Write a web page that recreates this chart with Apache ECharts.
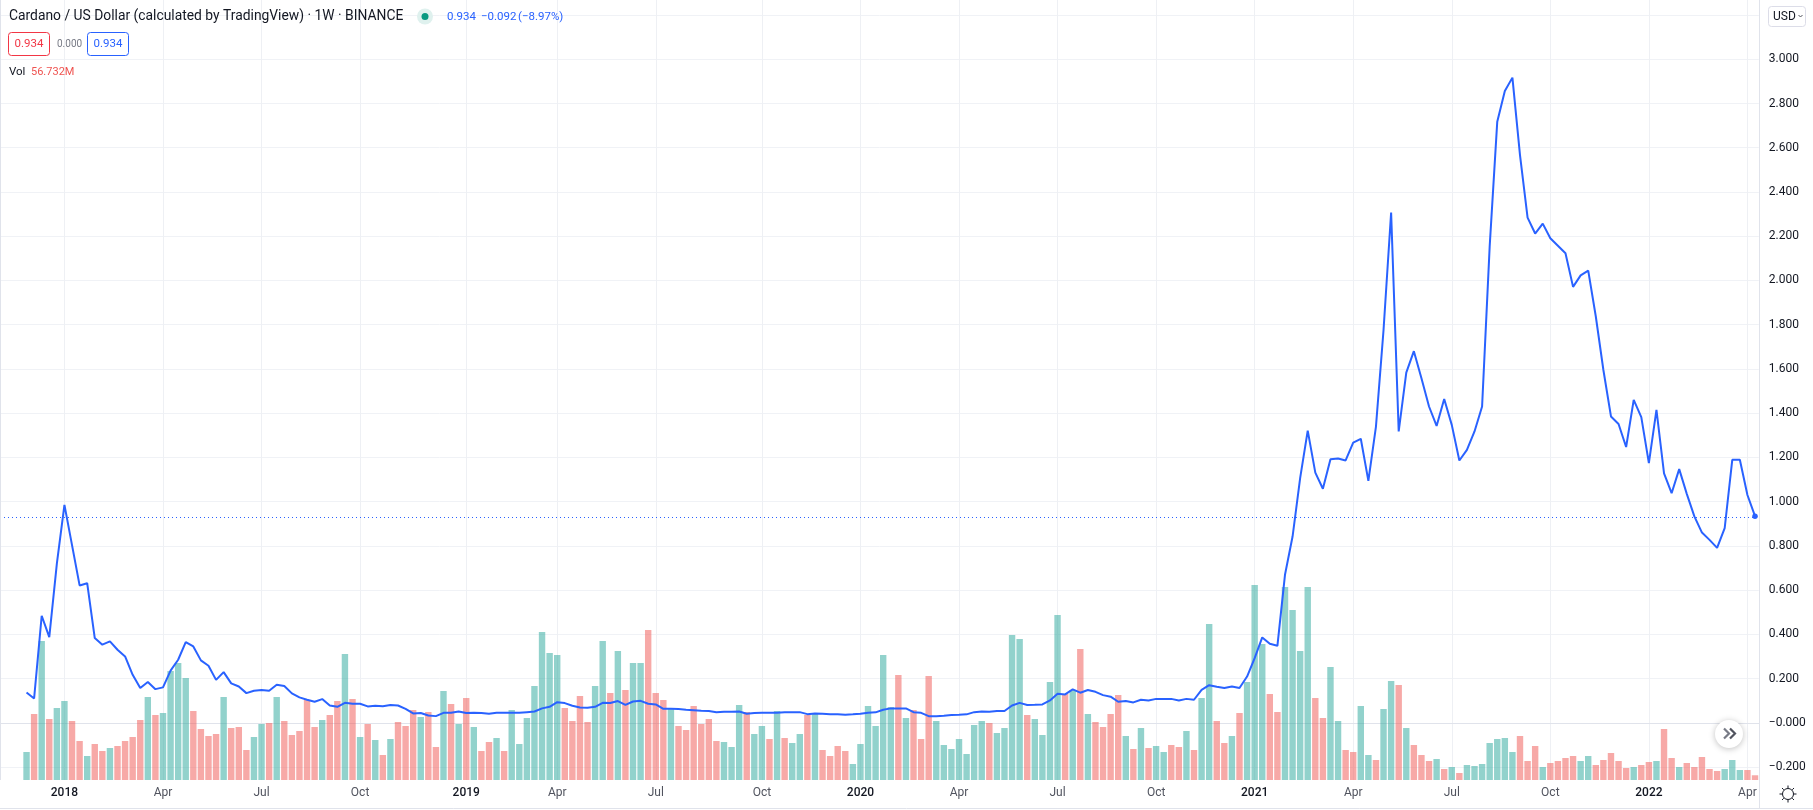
<!DOCTYPE html>
<html><head><meta charset="utf-8">
<style>html,body{margin:0;padding:0;background:#fff}#c{width:1813px;height:810px}</style>
<script src="https://cdn.jsdelivr.net/npm/echarts@6/dist/echarts.min.js"></script>
</head><body><div id="c"></div>
<script>
const closes=[
0.137,0.110,0.484,0.387,0.720,0.985,0.803,0.621,0.631,0.383,
0.353,0.368,0.330,0.300,0.217,0.157,0.184,0.152,0.160,0.236,
0.285,0.365,0.345,0.282,0.258,0.194,0.229,0.178,0.164,0.134,
0.145,0.148,0.145,0.172,0.166,0.133,0.115,0.104,0.095,0.107,
0.078,0.072,0.090,0.086,0.086,0.074,0.077,0.075,0.080,0.078,
0.063,0.042,0.044,0.033,0.030,0.045,0.045,0.051,0.044,0.045,
0.044,0.041,0.045,0.045,0.045,0.045,0.048,0.051,0.065,0.072,
0.093,0.089,0.077,0.069,0.068,0.072,0.090,0.089,0.098,0.081,
0.096,0.099,0.086,0.083,0.063,0.063,0.062,0.059,0.057,0.054,
0.053,0.048,0.050,0.050,0.051,0.041,0.044,0.045,0.045,0.045,
0.047,0.048,0.048,0.039,0.042,0.041,0.039,0.038,0.036,0.038,
0.041,0.045,0.047,0.059,0.065,0.065,0.065,0.048,0.045,0.030,
0.030,0.032,0.035,0.036,0.038,0.048,0.051,0.050,0.053,0.053,
0.078,0.090,0.080,0.081,0.083,0.101,0.131,0.128,0.151,0.136,
0.148,0.140,0.125,0.118,0.095,0.098,0.092,0.104,0.101,0.108,
0.108,0.108,0.101,0.108,0.104,0.149,0.170,0.163,0.157,0.164,
0.157,0.209,0.292,0.386,0.357,0.348,0.669,0.842,1.106,1.321,
1.131,1.058,1.192,1.195,1.186,1.267,1.284,1.094,1.339,1.776,
2.307,1.317,1.583,1.680,1.558,1.430,1.342,1.464,1.347,1.186,
1.234,1.317,1.430,2.153,2.718,2.857,2.917,2.567,2.284,2.212,
2.257,2.191,2.157,2.123,1.971,2.023,2.044,1.837,1.595,1.385,
1.351,1.247,1.460,1.382,1.174,1.415,1.128,1.038,1.147,1.035,
0.933,0.860,0.827,0.791,0.880,1.189,1.189,1.030,0.934];
const volumesM=[
336,792,1668,732,864,948,708,468,288,432,
348,384,408,468,516,720,996,780,804,1308,
1404,1224,828,612,528,552,996,624,636,360,
516,672,684,996,708,540,588,960,636,720,
780,948,1512,972,516,672,480,300,492,696,
648,840,756,816,396,1068,912,672,984,636,
348,456,504,348,840,432,744,1128,1776,1524,
1500,864,708,1008,696,1128,1668,1044,1548,1080,
1404,1404,1800,1044,960,852,648,600,888,672,
732,468,456,396,900,816,552,648,492,828,
504,444,552,780,804,360,288,408,348,192,
432,888,648,1500,876,1260,744,840,492,1248,
708,420,372,492,312,660,708,684,564,624,
1740,1692,780,732,540,1176,1980,1032,1080,1572,
792,696,636,792,1020,528,372,624,384,408,
336,420,396,588,360,984,1872,708,444,528,
804,1176,2340,1632,1032,816,2316,2040,1548,2316,
984,744,1356,708,360,336,888,300,240,852,
1188,1140,624,420,300,228,252,132,156,84,
180,168,192,444,492,504,336,528,228,408,
156,204,228,264,288,228,288,180,240,324,
228,144,156,180,216,228,612,264,156,204,
156,276,132,108,132,240,120,120,56.732];
const barDirections=[
'G','R','G','R','G','G','R','R','G','R',
'R','G','R','R','R','R','G','R','G','G',
'G','G','R','R','R','R','G','R','R','R',
'G','G','R','G','R','R','R','R','R','G',
'R','R','G','R','G','R','G','R','G','R',
'R','R','G','R','R','G','R','G','R','G',
'R','R','G','R','G','G','G','G','G','G',
'G','R','R','R','R','G','G','R','G','R',
'G','G','R','R','R','G','R','R','R','R',
'R','R','G','G','G','R','G','G','R','G',
'R','G','G','R','G','R','R','R','R','G',
'G','G','G','G','G','R','G','R','R','R',
'G','G','G','G','G','G','G','R','G','G',
'G','G','R','G','G','G','G','R','G','R',
'G','R','R','R','R','G','R','G','R','G',
'G','R','R','G','R','G','G','R','R','G',
'R','G','G','G','R','R','G','G','G','G',
'R','R','G','G','R','R','G','G','R','G',
'G','R','G','R','R','R','G','R','G','R',
'G','G','G','G','G','G','G','R','R','R',
'G','R','R','R','R','G','G','R','R','R',
'R','R','G','R','R','G','R','R','G','R',
'R','R','R','R','G','G','G','R','R'];
const priceTicks=[-0.2,0,0.2,0.4,0.6,0.8,1,1.2,1.4,1.6,1.8,2,2.2,2.4,2.6,2.8,3,3.2];
const monthNames=['2018','','','Apr','','','Jul','','','Oct'];
const firstWeek=Date.UTC(2017,10,27);
const lastClose=0.934;
const TITLE='Cardano / US Dollar (calculated by TradingView) · 1W · BINANCE';
const FONT='Roboto';

const PAD=3; // empty weeks left of the first bar
const weeks=closes.map((_,i)=>new Date(firstWeek+i*7*864e5));
const categories=[...Array(PAD).fill(''),...weeks.map(d=>d.toISOString().slice(0,10))];
function tickText(cat){
  if(!cat) return '';
  const d=new Date(cat+'T00:00:00Z');
  if(d.getUTCDate()>7||d.getUTCMonth()%3) return '';
  return d.getUTCMonth()===0?String(d.getUTCFullYear()):monthNames[d.getUTCMonth()];
}
const isTick=(i,v)=>tickText(v)!=='';
const blanks=Array(PAD).fill(null);
const colors={G:'rgba(38,166,154,0.5)',R:'rgba(239,83,80,0.5)'};

const txt=(x,y,text,fill,size,extra)=>({type:'text',x,y,silent:true,z:20,
  style:Object.assign({text,fill,font:size+'px '+FONT,textVerticalAlign:'middle'},extra||{})});
const box=(x,y,w,h,stroke)=>({type:'rect',silent:true,z:20,shape:{x,y,width:w,height:h,r:3},
  style:{fill:'#fff',stroke,lineWidth:1}});
const seg=(x1,y1,x2,y2,stroke,w)=>({type:'line',silent:true,z:20,shape:{x1,y1,x2,y2},style:{stroke,lineWidth:w||1}});
const pl=(points,stroke,w)=>({type:'polyline',silent:true,z:22,shape:{points},style:{stroke,lineWidth:w,fill:'none'}});

const sunRays=[];
for(let a=0;a<8;a++){const t=a*Math.PI/4,c=Math.cos(t),s=Math.sin(t);
  sunRays.push(seg(1788+c*6,794+s*6,1788+c*8.5,794+s*8.5,'#131722',1));}

const chart=echarts.init(document.getElementById('c'),null,{renderer:'canvas'});
chart.setOption({
  animation:false,
  backgroundColor:'#fff',
  grid:{left:-2.2,width:1761,top:0,height:780,containLabel:false},
  xAxis:{type:'category',data:categories,boundaryGap:true,
    axisLine:{show:true,lineStyle:{color:'#e0e3eb',width:1}},
    axisTick:{show:false},
    splitLine:{show:true,alignWithLabel:true,interval:isTick,lineStyle:{color:'#eef0f4',width:1}},
    axisLabel:{interval:isTick,margin:7,hideOverlap:false,formatter:v=>{
      const t=tickText(v);return /^\d/.test(t)?'{y|'+t+'}':'{m|'+t+'}';},
      rich:{y:{color:'#131722',fontSize:12,fontFamily:FONT,fontWeight:500},m:{color:'#50535e',fontSize:12,fontFamily:FONT}}}},
  yAxis:[{type:'value',position:'right',min:-0.2588,max:3.268,scale:true,
      axisLine:{show:true,lineStyle:{color:'#e0e3eb',width:1}},
      axisTick:{show:false,customValues:priceTicks},
      splitLine:{show:true,lineStyle:{color:'#f0f2f6',width:1}},
      axisLabel:{customValues:priceTicks.slice(0,-1),margin:10,align:'left',color:'#131722',fontSize:12,fontFamily:FONT,
        formatter:v=>(v<=0.0001?'\u2212':'')+Math.abs(v).toFixed(3)}},
    {type:'value',show:false,min:0,max:9360,splitLine:{show:false}}],
  series:[
    {type:'bar',yAxisIndex:1,barWidth:6.4,z:2,silent:true,
     data:[...blanks,...volumesM.map((v,i)=>({value:v,itemStyle:{color:colors[barDirections[i]]}}))]},
    {type:'line',yAxisIndex:0,z:3,silent:true,connectNulls:false,
     showAllSymbol:true,
     symbol:(v,p)=>p.dataIndex===categories.length-1?'circle':'none',symbolSize:5.5,
     itemStyle:{color:'#2962ff'},
     lineStyle:{color:'#2962ff',width:2},
     data:[...blanks,...closes],
     markLine:{silent:true,symbol:'none',label:{show:false},animation:false,
       lineStyle:{color:'#2962ff',type:[1,3],width:1},data:[{yAxis:lastClose}]}}
  ],
  graphic:{elements:[
    seg(0.5,0,0.5,780,'#e0e3eb',1),
    seg(1759.5,780,1759.5,808,'#e0e3eb',1),
    seg(0,808.5,1813,808.5,'#e0e3eb',1),
    txt(9,17,TITLE,'#131722',13.85),
    {type:'circle',silent:true,z:20,shape:{cx:425,cy:16.5,r:8},style:{fill:'#dff1ee'}},
    {type:'circle',silent:true,z:21,shape:{cx:425,cy:16.5,r:3.5},style:{fill:'#089981'}},
    txt(447,17,'0.934','#2962ff',11.5),
    txt(481,17,'\u22120.092','#2962ff',11.5),
    txt(518,17,'(\u22128.97%)','#2962ff',11.5),
    box(8.5,32.5,41,23,'#f23645'),
    txt(29,44.5,'0.934','#f23645',11.5,{textAlign:'center'}),
    txt(57,44.5,'0.000','#787b86',10),
    box(87.5,32.5,41,23,'#2962ff'),
    txt(108,44.5,'0.934','#2962ff',11.5,{textAlign:'center'}),
    txt(9,72,'Vol','#131722',11.5),
    txt(31,72,'56.732M','#ef5350',11),
    box(1768.5,6.5,37,20,'#dcdde8'),
    txt(1773,16.5,'USD','#131722',12),
    pl([[1798.5,15],[1800.5,17],[1802.5,15]],'#50535e',1),
    {type:'circle',silent:true,z:20,shape:{cx:1729,cy:734,r:14},
     style:{fill:'#fff',shadowBlur:6,shadowColor:'rgba(0,0,0,0.25)',shadowOffsetY:1}},
    pl([[1724,728.5],[1729,733.5],[1724,738.5]],'#787b86',2.2),
    pl([[1730,728.5],[1735,733.5],[1730,738.5]],'#50535e',2.2),
    {type:'circle',silent:true,z:20,shape:{cx:1788,cy:794,r:5.5},style:{fill:'#fff',stroke:'#131722',lineWidth:1}},
    ...sunRays
  ]}
});
</script></body></html>
